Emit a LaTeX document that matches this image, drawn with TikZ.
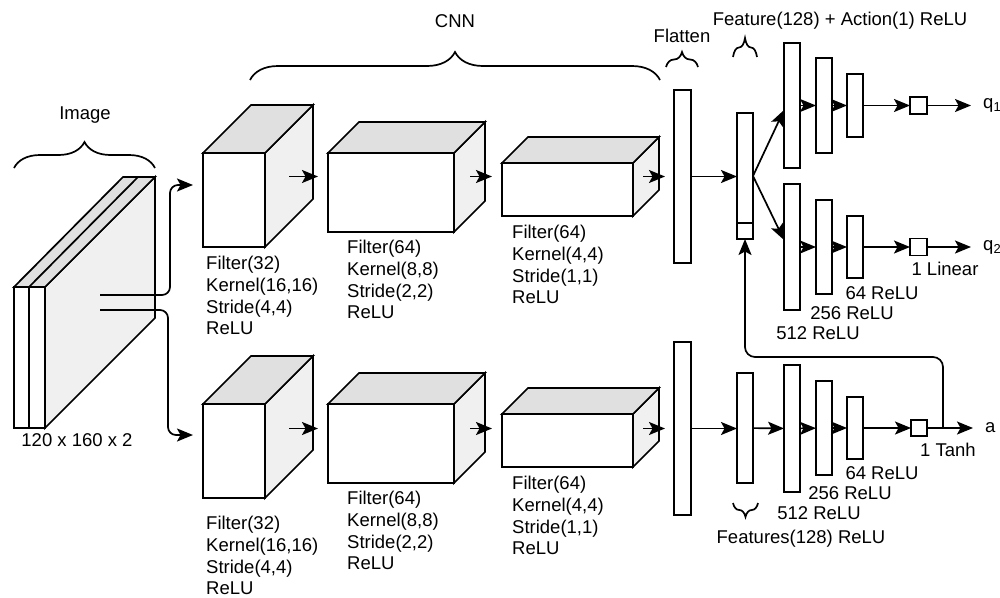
\documentclass[tikz,border=0pt]{standalone}
\usepackage{fontspec}
\setmainfont{Liberation Sans}
\usetikzlibrary{arrows.meta,calc,decorations.pathreplacing}

\definecolor{topgray}{HTML}{E0E0E0}
\definecolor{sidegray}{HTML}{F0F0F0}

\tikzset{
  >={Stealth[length=16pt,width=13pt,inset=3.5pt]},
  box/.style={draw, fill=white, line width=1.7pt, inner sep=0pt, outer sep=0pt},
  arr/.style={->, line width=1.7pt},
  brc/.style={decorate, line width=1.7pt},
  lbl/.style={align=left, anchor=north west, inner sep=0pt},
  txt/.style={inner sep=0pt},
}

% conv block: name, x, y (top left of front face), width, height, depth
\newcommand{\cnnbox}[6]{%
  \draw[line width=1.7pt, fill=sidegray] (#2+#4,#3) -- ++(#6,-#6) -- ++(0,#5) -- ++(-#6,#6) -- cycle;
  \draw[line width=1.7pt, fill=topgray] (#2,#3) -- ++(#6,-#6) -- ++(#4,0) -- ++(-#6,#6) -- cycle;
  \node[box, minimum width=#4pt, minimum height=#5pt, anchor=north west] (#1) at (#2,#3) {};
}

\begin{document}
\begin{tikzpicture}[x=1pt, y=-1pt, font=\fontsize{18.5}{21.7}\selectfont]
  \useasboundingbox (0,0) rectangle (1000,597);

  % input image
  \draw[line width=1.7pt, fill=sidegray] (45,287) -- (155,177) -- (155,318) -- (45,428) -- cycle;
  \draw[line width=1.7pt, fill=topgray] (14,287) -- (123,177) -- (155,177) -- (45,287) -- cycle;
  \draw[line width=1.7pt] (29,287) -- (138,177);
  \node[box, minimum width=15pt, minimum height=141pt, anchor=north west] (img1) at (14,287) {};
  \node[box, minimum width=16pt, minimum height=141pt, anchor=north west] (img2) at (29,287) {};
  \node[txt] (imgsize) at (77,440) {120 x 160 x 2};
  \draw[brc, decoration={brace, amplitude=26pt}] (14,168) -- (155,168);
  \node[txt] (imglbl) at (85,115) {Image};

  % CNN blocks
  \cnnbox{c1}{203}{153}{62}{94}{48}
  \cnnbox{c2}{328}{153}{126}{79}{31}
  \cnnbox{c3}{502}{163}{131}{53}{26}
  \cnnbox{c4}{203}{404}{62}{94}{48}
  \cnnbox{c5}{328}{404}{126}{79}{31}
  \cnnbox{c6}{502}{414}{131}{53}{26}
  \draw[brc, decoration={brace, amplitude=28pt}] (250,80) -- (660,80);
  \node[txt] (cnnlbl) at (455,21) {CNN};

  \node[lbl] (c1lbl) at (206,256) {Filter(32)\\Kernel(16,16)\\Stride(4,4)\\ReLU};
  \node[lbl] (c2lbl) at (347,240) {Filter(64)\\Kernel(8,8)\\Stride(2,2)\\ReLU};
  \node[lbl] (c3lbl) at (512,225) {Filter(64)\\Kernel(4,4)\\Stride(1,1)\\ReLU};
  \node[lbl] (c4lbl) at (206,516) {Filter(32)\\Kernel(16,16)\\Stride(4,4)\\ReLU};
  \node[lbl] (c5lbl) at (347,491) {Filter(64)\\Kernel(8,8)\\Stride(2,2)\\ReLU};
  \node[lbl] (c6lbl) at (512,476) {Filter(64)\\Kernel(4,4)\\Stride(1,1)\\ReLU};

  % flatten
  \node[box, minimum width=17pt, minimum height=173pt] (flat1) at (682.5,176.5) {};
  \node[box, minimum width=17pt, minimum height=173pt] (flat2) at (682.5,428.5) {};
  \draw[brc, decoration={brace, amplitude=15pt}] (666,67) -- (698,67);
  \node[txt] (flatlbl) at (682,36) {Flatten};

  % split of the image
  \coordinate (split1) at (100,295);
  \coordinate (split2) at (100,310);
  \draw[arr, rounded corners=8pt] (split1) -- ++(70,0) |- ($(c1.west)+(-10,-15)$);
  \draw[arr, rounded corners=8pt] (split2) -- ++(68,0) |- ($(c4.west)+(-10,-16)$);

  % arrows through the CNN
  \draw[arr] ($(c1.east |- flat1)+(24,0)$) -- ($(c2.west |- flat1)+(-10,0)$);
  \draw[arr] ($(c2.east |- flat1)+(16,0)$) -- ($(c3.west |- flat1)+(-10,0)$);
  \draw[arr] ($(c3.east |- flat1)+(10,0)$) -- ($(flat1.west)+(-9,0)$);
  \draw[arr] ($(c4.east |- flat2)+(24,0)$) -- ($(c5.west |- flat2)+(-10,0)$);
  \draw[arr] ($(c5.east |- flat2)+(16,0)$) -- ($(c6.west |- flat2)+(-10,0)$);
  \draw[arr] ($(c6.east |- flat2)+(10,0)$) -- ($(flat2.west)+(-9,0)$);

  % critic: feature + action
  \node[box, minimum width=16pt, minimum height=126pt] (feat1) at (745,176) {};
  \node[box, minimum width=16pt, minimum height=16pt, anchor=south] (act) at (feat1.south) {};
  \draw[brc, decoration={brace, amplitude=19pt}] (733,57) -- (757,57);
  \node[txt] (featlbl) at (840,21) {Feature(128) + Action(1) ReLU};
  \draw[arr] (flat1.east) -- (flat1.east -| feat1.west);

  \node[box, minimum width=16pt, minimum height=125pt] (a1) at (792,105.5) {};
  \node[box, minimum width=16pt, minimum height=95pt] (a2) at (824,105.5) {};
  \node[box, minimum width=16pt, minimum height=63pt] (a3) at (855,105.5) {};
  \node[box, minimum size=17pt] (q1box) at (918.5,105.5) {};
  \node[txt, anchor=west, inner xsep=12pt] (q1) at (971,105.5) {q\textsubscript{1}};

  \node[box, minimum width=16pt, minimum height=126pt] (b1) at (792,247) {};
  \node[box, minimum width=16pt, minimum height=94pt] (b2) at (824,247) {};
  \node[box, minimum width=16pt, minimum height=62pt] (b3) at (855,247) {};
  \node[box, minimum size=17pt] (q2box) at (918.5,247) {};
  \node[txt, anchor=west, inner xsep=12pt] (q2) at (971,247) {q\textsubscript{2}};

  \draw[arr] (feat1.east) -- ($(a1.west)+(0,4.5)$);
  \draw[arr] (feat1.east) -- ($(b1.west)+(0,-7)$);
  \draw[arr] (a1) -- (a2);
  \draw[arr] (a2) -- (a3);
  \draw[arr] (a3) -- (q1box);
  \draw[arr] (q1box) -- (q1);
  \draw[arr] (b1) -- (b2);
  \draw[arr] (b2) -- (b3);
  \draw[arr] (b3) -- (q2box);
  \draw[arr] (q2box) -- (q2);

  \node[txt] (linlbl) at (945,269) {1 Linear};
  \node[txt] (b3lbl) at (882,293) {64 ReLU};
  \node[txt] (b2lbl) at (852,313) {256 ReLU};
  \node[txt] (b1lbl) at (818,333) {512 ReLU};

  % actor
  \node[box, minimum width=16pt, minimum height=110pt] (feat2) at (745,428) {};
  \node[box, minimum width=16pt, minimum height=127pt] (d1) at (792,428.5) {};
  \node[box, minimum width=16pt, minimum height=94pt] (d2) at (824,428) {};
  \node[box, minimum width=16pt, minimum height=62pt] (d3) at (855,428) {};
  \node[box, minimum size=16pt] (tbox) at (919,428) {};
  \node[txt, anchor=west, inner xsep=12pt] (out) at (973,428) {a};

  \draw[arr] (flat2.east) -- (flat2.east -| feat2.west);
  \draw[arr] (feat2) -- (d1);
  \draw[arr] (d1) -- (d2);
  \draw[arr] (d2) -- (d3);
  \draw[arr] (d3) -- (tbox);
  \draw[arr] (tbox) -- (out);

  % action fed back to the critic
  \coordinate (tap) at ($(tbox.east)+(16,0)$);
  \draw[arr, rounded corners=10pt] (tap) |- ($(act.south)+(0,118)$) -- (act.south);

  \draw[brc, decoration={brace, amplitude=14pt}] (758,503) -- (733,503);
  \node[txt] (feat2lbl) at (801,539) {Features(128) ReLU};
  \node[txt] (tanhlbl) at (948,450) {1 Tanh};
  \node[txt] (d3lbl) at (882,473) {64 ReLU};
  \node[txt] (d2lbl) at (850,493) {256 ReLU};
  \node[txt] (d1lbl) at (819,513) {512 ReLU};
\end{tikzpicture}
\end{document}
